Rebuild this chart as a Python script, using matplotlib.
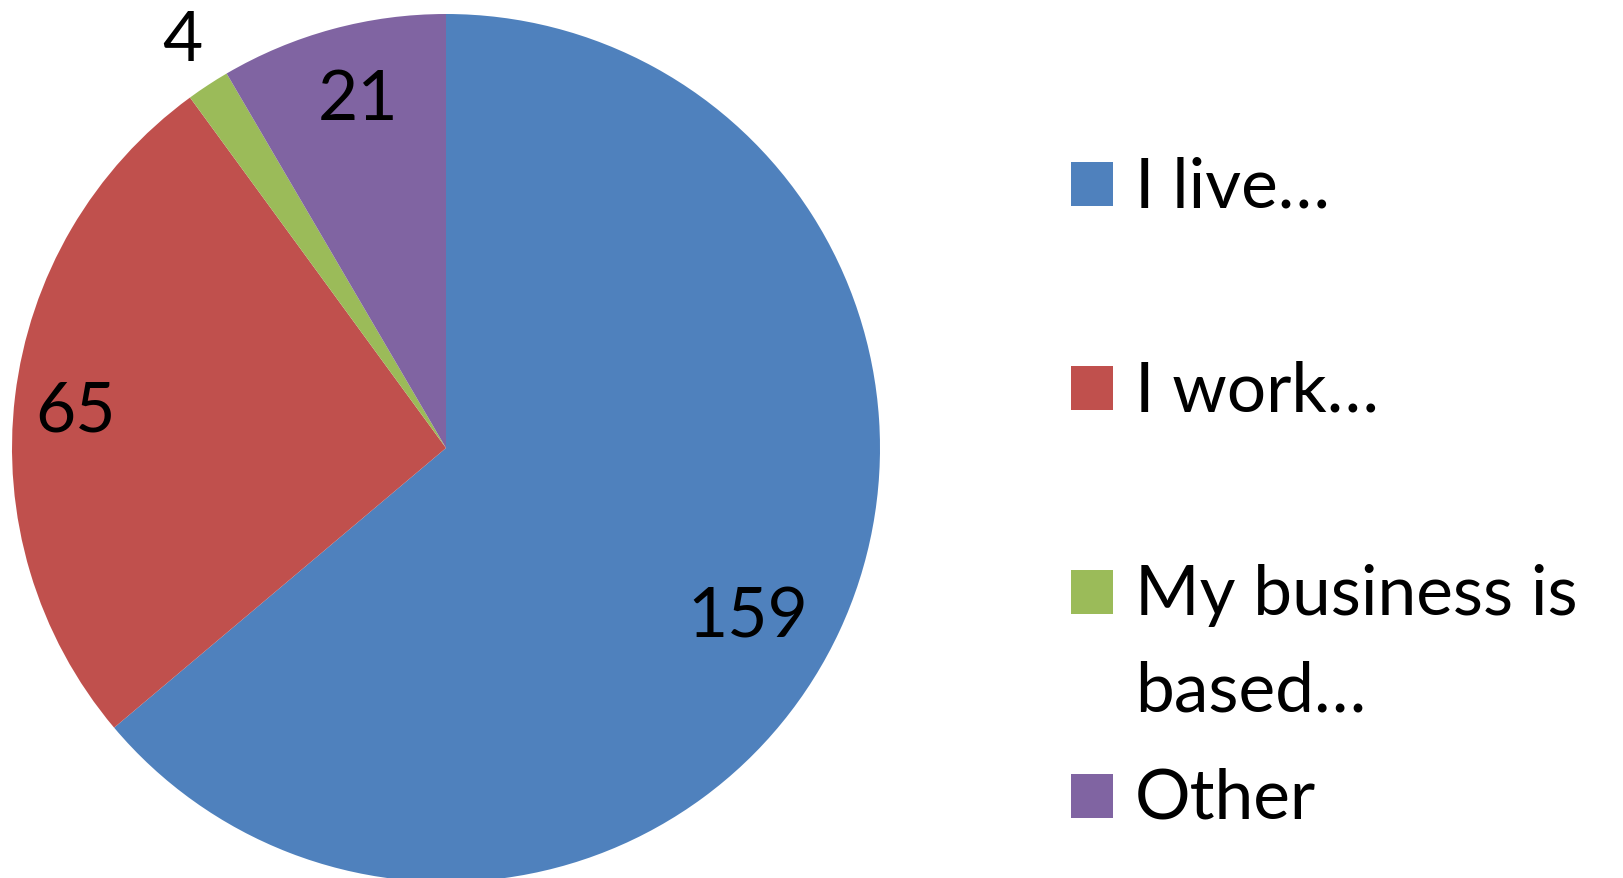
import numpy as np
import matplotlib
matplotlib.use('Agg')
import matplotlib.pyplot as plt
from matplotlib.patches import Rectangle

plt.rcParams['font.family'] = ['Lato', 'DejaVu Sans']

categories = ['I live…', 'I work…', 'My business is\nbased…', 'Other']
values = [159, 65, 4, 21]
colors = ['#4F81BD', '#C0504D', '#9BBB59', '#8064A2']

# label placement (fraction of radius, angle nudge in degrees)
label_dist = [0.79, 0.86, 1.13, 0.84]
label_nudge = [-3.5, 0.4, -0.7, -1.2]

W, H = 1623, 879
fig = plt.figure(figsize=(W / 100, H / 100), dpi=100)
ax = fig.add_axes([0, 0, 1, 1])

cx, cy, r = 446, 430, 434
fs = 50
cap = 25  # half cap height in px

wedges, _ = ax.pie(values, colors=colors, startangle=90, counterclock=False,
                   center=(cx, cy), radius=r, frame=True,
                   wedgeprops=dict(edgecolor='none', linewidth=0))
ax.set_xlim(0, W)
ax.set_ylim(0, H)
ax.axis('off')

for w, v, d, n in zip(wedges, values, label_dist, label_nudge):
    ang = np.deg2rad((w.theta1 + w.theta2) / 2 + n)
    x = cx + d * r * np.cos(ang)
    y = cy + d * r * np.sin(ang)
    ax.text(x, y - cap, str(v), ha='center', va='baseline', fontsize=fs, color='black')

# legend drawn by hand so the square lines up with the first text line
lx, sq_w, sq_h = 1071, 42, 44
top = H - 185
step = 204
line_gap = 97
for i, (lab, w) in enumerate(zip(categories, wedges)):
    yc = top - i * step
    ax.add_patch(Rectangle((lx, yc - sq_h / 2), sq_w, sq_h, facecolor=w.get_facecolor(),
                           edgecolor='none'))
    for k, line in enumerate(lab.split('\n')):
        ax.text(1135, yc - 22 - k * line_gap, line, ha='left', va='baseline',
                fontsize=fs, color='black')

fig.savefig('out.png', dpi=100)
